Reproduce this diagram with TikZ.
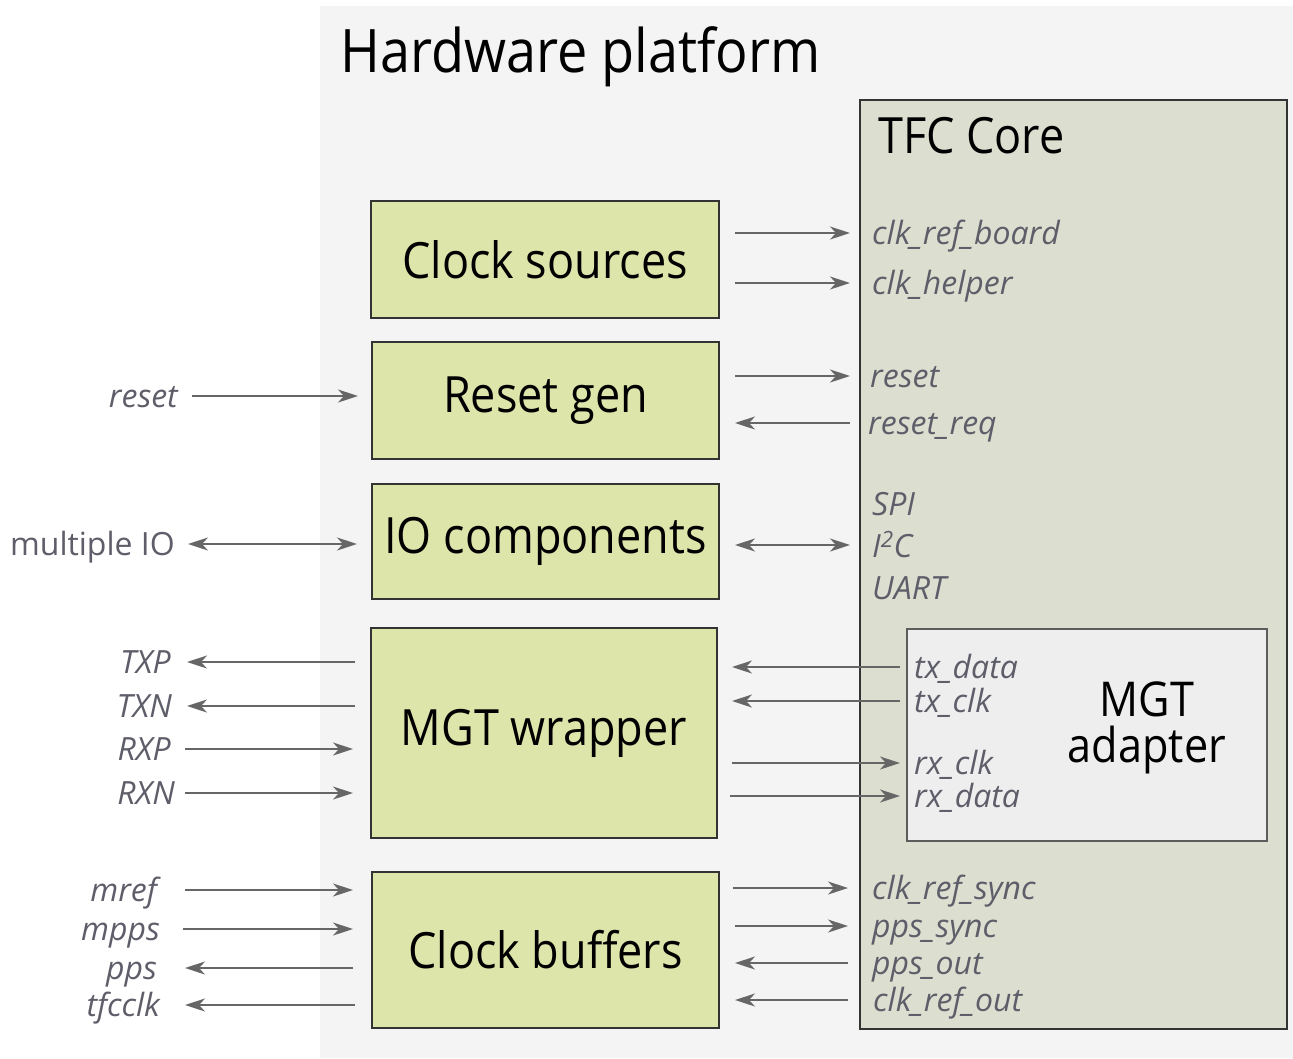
\documentclass[tikz,border=0pt]{standalone}
\usepackage{fontspec}
\setmainfont{Open Sans}[FakeStretch=0.9]
\newfontfamily\labelfont{Open Sans}
\usetikzlibrary{arrows.meta}

\definecolor{platbg}{HTML}{F4F4F4}
\definecolor{corefill}{HTML}{DCDFCF}
\definecolor{blockfill}{HTML}{DDE5AA}
\definecolor{adaptfill}{HTML}{EEEEEE}
\definecolor{sigtext}{HTML}{5E5E6A}
\definecolor{wirecol}{HTML}{666666}
\definecolor{edgecol}{HTML}{333333}

% a signal line between two named end points
\newcommand\wirelink[5]{%
  \coordinate (#1-a) at (#2,#4);
  \coordinate (#1-b) at (#3,#4);
  \draw[sigline,#5] (#1-a) -- (#1-b);}

\begin{document}
\begin{tikzpicture}[x=1pt,y=-1pt,
  block/.style={draw=edgecol, line width=1.8pt, fill=blockfill,
    inner sep=0pt, font=\fontsize{50}{56}\selectfont},
  sig/.style={inner sep=0pt, text=sigtext, font=\labelfont\fontsize{32}{36}\selectfont\itshape},
  sigup/.style={inner sep=0pt, text=sigtext, font=\labelfont\fontsize{32}{36}\selectfont},
  sigline/.style={draw=wirecol, line width=2pt,
    >={Stealth[length=20pt,width=13pt,inset=6pt]}},
  ]
\useasboundingbox (0,0) rectangle (1293,1058);

% platform area
\path[fill=platbg] (320,6) rectangle (1293,1058);
\node[anchor=base west, inner sep=0pt, font=\fontsize{60}{66}\selectfont]
  (plat) at (340,72) {Hardware platform};

% TFC core
\node[draw=edgecol, line width=1.8pt, fill=corefill, anchor=north west,
  minimum width=427pt, minimum height=929pt, inner sep=0pt] (core) at (859,99) {};
\node[anchor=base west, inner sep=0pt, font=\fontsize{50}{56}\selectfont]
  (coretitle) at (878,153) {TFC Core};

% MGT adapter
\node[draw=edgecol!80, line width=1.6pt, fill=adaptfill, anchor=north west,
  minimum width=360pt, minimum height=212pt, inner sep=0pt] (adapt) at (906,628) {};
\node[align=center, inner sep=0pt, font=\fontsize{48}{46}\selectfont]
  (adapttxt) at (1147,728) {MGT\\adapter};

% platform blocks
\node[block, minimum width=348pt, minimum height=117pt] (clksrc) at (545,259.5) {Clock sources};
\node[block, minimum width=347pt, minimum height=117pt] (rstgen) at (545.5,400.5) {Reset gen};
\node[block, minimum width=347pt, minimum height=115pt] (iocomp) at (545.5,541.5) {IO components};
\node[block, minimum width=346pt, minimum height=210pt] (mgtwrap) at (544,733) {MGT wrapper};
\node[block, minimum width=347pt, minimum height=156pt] (clkbuf) at (545.5,950) {Clock buffers};

% core-side signals
\wirelink{crb}{735}{850}{233}{->}
\node[sig, anchor=base west] (lcrb) at (872,244) {clk\_ref\_board};
\wirelink{chl}{735}{850}{283}{->}
\node[sig, anchor=base west] (lchl) at (872,294) {clk\_helper};
\wirelink{rst}{735}{850}{376}{->}
\node[sig, anchor=base west] (lrst) at (870,387) {reset};
\wirelink{rrq}{850}{735}{423}{->}
\node[sig, anchor=base west] (lrrq) at (868,434) {reset\_req};
\wirelink{bus}{735}{850}{545}{<->}
\node[sig, anchor=base west] (lspi) at (872,515) {SPI};
\node[sig, anchor=base west] (li2c) at (872,557) {I\textsuperscript{2}C};
\node[sig, anchor=base west] (luart) at (872,599) {UART};

\wirelink{txd}{900}{732}{667}{->}
\node[sig, anchor=base west] (ltxd) at (914,678) {tx\_data};
\wirelink{txc}{900}{732}{701}{->}
\node[sig, anchor=base west] (ltxc) at (914,712) {tx\_clk};
\wirelink{rxc}{732}{900}{763}{->}
\node[sig, anchor=base west] (lrxc) at (914,774) {rx\_clk};
\wirelink{rxd}{730}{900}{796}{->}
\node[sig, anchor=base west] (lrxd) at (914,807) {rx\_data};

\wirelink{crs}{733}{848}{888}{->}
\node[sig, anchor=base west] (lcrs) at (872,899) {clk\_ref\_sync};
\wirelink{pss}{735}{848}{926}{->}
\node[sig, anchor=base west] (lpss) at (872,937) {pps\_sync};
\wirelink{pso}{848}{735}{963}{->}
\node[sig, anchor=base west] (lpso) at (872,974) {pps\_out};
\wirelink{cro}{848}{735}{1000}{->}
\node[sig, anchor=base west] (lcro) at (873,1011) {clk\_ref\_out};

% external signals
\wirelink{xrst}{192}{358}{396}{->}
\node[sig, anchor=base east] (lxrst) at (178,407) {reset};
\wirelink{xio}{188}{357}{544}{<->}
\node[sigup, anchor=base east] (lxio) at (175,555) {multiple IO};
\wirelink{txp}{355}{187}{662}{->}
\node[sig, anchor=base east] (ltxp) at (171,673) {TXP};
\wirelink{txn}{355}{187}{706}{->}
\node[sig, anchor=base east] (ltxn) at (172,717) {TXN};
\wirelink{rxp}{185}{353}{749}{->}
\node[sig, anchor=base east] (lrxp) at (171,760) {RXP};
\wirelink{rxn}{185}{353}{793}{->}
\node[sig, anchor=base east] (lrxn) at (175,804) {RXN};
\wirelink{mrf}{185}{353}{890}{->}
\node[sig, anchor=base east] (lmrf) at (157,901) {mref};
\wirelink{mps}{183}{353}{929}{->}
\node[sig, anchor=base east] (lmps) at (160,940) {mpps};
\wirelink{pps}{353}{185}{968}{->}
\node[sig, anchor=base east] (lpps) at (157,979) {pps};
\wirelink{tfc}{355}{185}{1005}{->}
\node[sig, anchor=base east] (ltfc) at (160,1016) {tfcclk};
\end{tikzpicture}
\end{document}
